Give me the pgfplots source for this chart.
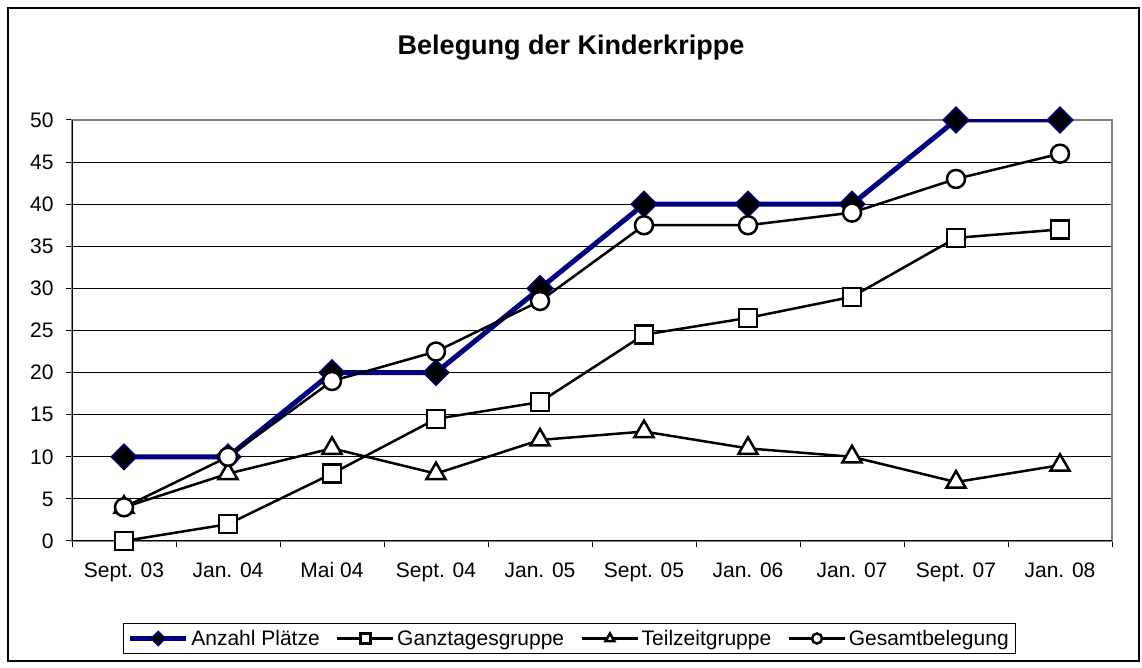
\documentclass[border=0pt]{standalone}
\usepackage{pgfplots}
\pgfplotsset{compat=1.18}
\usepackage{fontspec}
\setmainfont{Liberation Sans}
\definecolor{navyline}{RGB}{0,0,128}
\begin{document}
\begin{tikzpicture}[x=1pt,y=1pt]
\useasboundingbox (-72,-127) rectangle (1070,541);
\draw[black,line width=1.3pt] (-64,-120) rectangle (1067,533);
\node[font=\fontsize{27}{32}\selectfont\bfseries] at (499,493) {Belegung der Kinderkrippe};
\begin{axis}[
  at={(0,0)}, anchor=south west,
  scale only axis, width=1040pt, height=421pt,
  xmin=0.5, xmax=10.5, ymin=0, ymax=50,
  xtick={0.5,1.5,...,10.5},
  x tick label as interval,
  xticklabels={Sept. 03,Jan. 04,Mai 04,Sept. 04,Jan. 05,Sept. 05,Jan. 06,Jan. 07,Sept. 07,Jan. 08},
  ytick={0,5,...,50},
  xtick pos=bottom, ytick pos=left,
  tick align=outside,
  major tick length=6pt,
  tick style={black,line width=1pt},
  ymajorgrids,
  major grid style={black,line width=1pt},
  axis line style={gray,line width=1.5pt},
  ticklabel style={font=\fontsize{21}{25}\selectfont},
  /pgf/number format/assume math mode=true,
  xticklabel style={yshift=-12pt},
  yticklabel style={xshift=-9pt},
  legend columns=4,
  legend style={at={(0.4784,-0.2316)}, anchor=center, draw=black, line width=1pt,
    font=\fontsize{21}{25}\selectfont, inner xsep=4pt, inner ysep=4pt,
    /tikz/every even column/.append style={column sep=14pt},
    nodes={inner xsep=2.5pt, inner ysep=2.5pt}},
  legend image code/.code={\draw[mark repeat=2,mark phase=2,#1,mark size=5pt] plot coordinates {(0pt,0pt)(28pt,0pt)(56pt,0pt)};},
]
\draw[black,line width=1.5pt] (rel axis cs:0,1) |- (rel axis cs:1,0);
\addplot[navyline, line width=5pt, mark=square*, mark size=9pt,
  mark options={rotate=45, fill=black, draw=navyline, line width=1.5pt}]
  coordinates {(1,10)(2,10)(3,20)(4,20)(5,30)(6,40)(7,40)(8,40)(9,50)(10,50)};
\addlegendentry{Anzahl Plätze}
\addplot[black, line width=2.5pt, mark=square*, mark size=9pt,
  mark options={fill=white, draw=black, line width=2.5pt}]
  coordinates {(1,0)(2,2)(3,8)(4,14.5)(5,16.5)(6,24.5)(7,26.5)(8,29)(9,36)(10,37)};
\addlegendentry{Ganztagesgruppe}
\addplot[black, line width=2.5pt, mark=triangle*, mark size=11pt,
  mark options={fill=white, draw=black, line width=2.5pt}]
  coordinates {(1,4)(2,8)(3,11)(4,8)(5,12)(6,13)(7,11)(8,10)(9,7)(10,9)};
\addlegendentry{Teilzeitgruppe}
\addplot[black, line width=2.5pt, mark=*, mark size=9pt,
  mark options={fill=white, draw=black, line width=2.5pt}]
  coordinates {(1,4)(2,10)(3,19)(4,22.5)(5,28.5)(6,37.5)(7,37.5)(8,39)(9,43)(10,46)};
\addlegendentry{Gesamtbelegung}
\end{axis}
\end{tikzpicture}
\end{document}
